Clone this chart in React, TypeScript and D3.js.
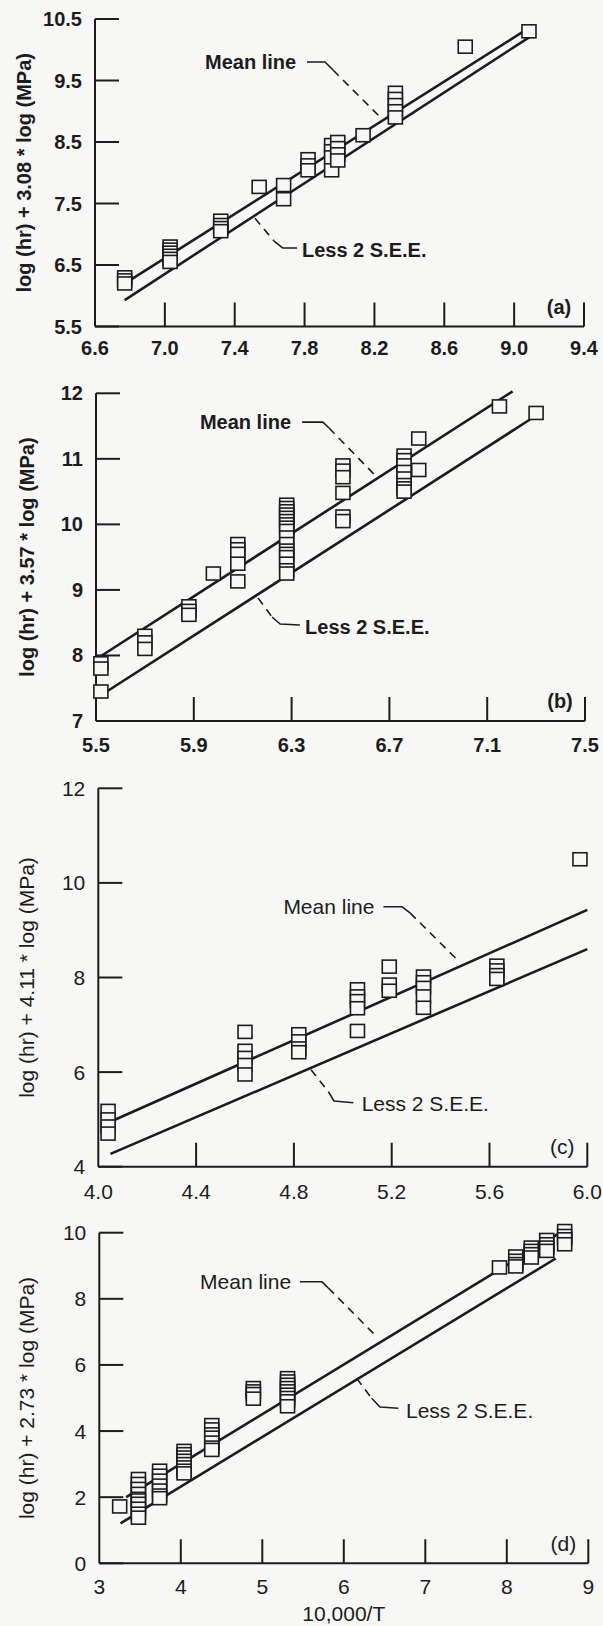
import React from 'react';
import * as d3 from 'd3';

const W = 603;
const H = 1626;
const BG = '#f7f7f6';
const INK = '#1c1c1c';

// ---------- Panel (a) ----------
const aXTicks = [6.6, 7.0, 7.4, 7.8, 8.2, 8.6, 9.0, 9.4];
const aYTicks = [5.5, 6.5, 7.5, 8.5, 9.5, 10.5];
const aColX = [6.77, 7.03, 7.32, 7.54, 7.68, 7.82, 7.955, 7.99, 8.135, 8.32, 8.72, 9.085];
const aColY = [
  [6.3, 6.25, 6.2],
  [6.8, 6.75, 6.7, 6.65, 6.6, 6.55],
  [7.22, 7.15, 7.1, 7.05],
  [7.77],
  [7.8, 7.57],
  [8.22, 8.12, 8.04],
  [8.45, 8.35, 8.25, 8.04],
  [8.5, 8.4, 8.3, 8.2],
  [8.61],
  [9.3, 9.2, 9.1, 9.0, 8.9],
  [10.05],
  [10.3],
];
const aMean = [[6.81, 6.27], [9.11, 10.4]];
const aLess = [[6.77, 5.93], [9.09, 10.21]];
const aMeanText = [7.23, 9.8];
const aMeanSolid = [[7.814, 9.8], [7.917, 9.8], [7.963, 9.67]];
const aMeanDash = [[7.963, 9.67], [8.232, 8.906]];
const aLessText = [7.785, 6.744];
const aLessDash = [[7.516, 7.26], [7.625, 6.89]];
const aLessSolid = [[7.625, 6.89], [7.676, 6.776], [7.757, 6.776]];

// ---------- Panel (b) ----------
const bXTicks = [5.5, 5.9, 6.3, 6.7, 7.1, 7.5];
const bYTicks = [7, 8, 9, 10, 11, 12];
const bColX = [5.52, 5.7, 5.88, 5.98, 6.08, 6.28, 6.51, 6.76, 6.82, 7.15, 7.3];
const bColY = [
  [7.88, 7.8, 7.45],
  [8.3, 8.2, 8.1],
  [8.75, 8.68, 8.62],
  [9.25],
  [9.7, 9.62, 9.55, 9.4, 9.13],
  [10.3, 10.25, 10.2, 10.15, 10.1, 10.05, 10.0, 9.95, 9.9, 9.8, 9.7, 9.6, 9.55, 9.5, 9.4, 9.3, 9.25],
  [10.9, 10.82, 10.72, 10.48, 10.12, 10.05],
  [11.05, 10.98, 10.9, 10.8, 10.7, 10.6, 10.55, 10.5],
  [11.31, 10.83],
  [11.8],
  [11.7],
];
const bMean = [[5.516, 7.98], [7.204, 12.03]];
const bLess = [[5.544, 7.45], [7.275, 11.6]];
const bMeanText = [5.925, 11.56];
const bMeanSolid = [[6.343, 11.56], [6.428, 11.56], [6.453, 11.47]];
const bMeanDash = [[6.453, 11.47], [6.649, 10.72]];
const bLessText = [6.355, 8.44];
const bLessDash = [[6.163, 8.877], [6.22, 8.587]];
const bLessSolid = [[6.22, 8.587], [6.253, 8.48], [6.334, 8.465]];

// ---------- Panel (c) ----------
const cXTicks = [4.0, 4.4, 4.8, 5.2, 5.6, 6.0];
const cYTicks = [4, 6, 8, 10, 12];
const cColX = [4.04, 4.6, 4.82, 5.06, 5.19, 5.33, 5.63, 5.97];
const cColY = [
  [5.18, 5.0, 4.85, 4.7],
  [6.85, 6.45, 6.3, 6.15, 5.95],
  [6.8, 6.65, 6.5, 6.42],
  [7.75, 7.6, 7.5, 7.35, 6.87],
  [8.23, 7.85, 7.72],
  [8.02, 7.9, 7.78, 7.6, 7.36],
  [8.25, 8.15, 8.05, 7.97],
  [10.5],
];
const cMean = [[4.04, 4.93], [6.0, 9.43]];
const cLess = [[4.05, 4.27], [6.0, 8.6]];
const cMeanText = [4.757, 9.497];
const cMeanSolid = [[5.166, 9.497], [5.241, 9.497], [5.275, 9.365]];
const cMeanDash = [[5.275, 9.365], [5.472, 8.355]];
const cLessText = [5.077, 5.34];
const cLessDash = [[4.87, 6.05], [4.941, 5.586]];
const cLessSolid = [[4.941, 5.586], [4.964, 5.389], [5.043, 5.353]];

// ---------- Panel (d) ----------
const dXTicks = [3, 4, 5, 6, 7, 8, 9];
const dYTicks = [0, 2, 4, 6, 8, 10];
const dColX = [3.25, 3.48, 3.74, 4.04, 4.38, 4.89, 5.31, 7.91, 8.11, 8.3, 8.49, 8.71];
const dColY = [
  [1.72],
  [2.55, 2.4, 2.25, 2.1, 1.95, 1.9, 1.8, 1.65, 1.5, 1.38],
  [2.8, 2.65, 2.5, 2.35, 2.2, 2.05, 1.97],
  [3.4, 3.3, 3.2, 3.1, 3.0, 2.9, 2.8, 2.72],
  [4.18, 4.05, 3.9, 3.8, 3.65, 3.5, 3.43],
  [5.3, 5.2, 5.12, 4.98],
  [5.6, 5.5, 5.4, 5.3, 5.2, 5.1, 5.0, 4.9, 4.75],
  [8.95],
  [9.28, 9.15, 9.05, 8.98],
  [9.55, 9.45, 9.35, 9.25],
  [9.78, 9.65, 9.55, 9.45],
  [10.05, 9.9, 9.8, 9.65],
];
const dMean = [[3.33, 2.0], [8.72, 10.1]];
const dLess = [[3.26, 1.21], [8.6, 9.22]];
const dMeanText = [4.236, 8.518];
const dMeanSolid = [[5.463, 8.518], [5.729, 8.518], [5.81, 8.327]];
const dMeanDash = [[5.81, 8.327], [6.404, 6.854]];
const dLessText = [6.763, 4.637];
const dLessDash = [[6.158, 5.596], [6.342, 4.991]];
const dLessSolid = [[6.342, 4.991], [6.444, 4.728], [6.669, 4.688]];

const yTitles = [
  'log (hr) + 3.08 * log (MPa)',
  'log (hr) + 3.57 * log (MPa)',
  'log (hr) + 4.11 * log (MPa)',
  'log (hr) + 2.73 * log (MPa)',
];
const tags = ['(a)', '(b)', '(c)', '(d)'];
const xTitle = '10,000/T';
const meanLabel = 'Mean line';
const lessLabel = 'Less 2 S.E.E.';

const FONT = "'Liberation Sans', Arial, Helvetica, sans-serif";

type Pt = number[];

interface PanelCfg {
  xDomain: [number, number];
  yDomain: [number, number];
  px: [number, number];
  py: [number, number];
  xTicks: number[];
  yTicks: number[];
  xFmt: (n: number) => string;
  yFmt: (n: number) => string;
  colX: number[];
  colY: number[][];
  mean: Pt[];
  less: Pt[];
  meanText: Pt;
  meanSolid: Pt[];
  meanDash: Pt[];
  lessText: Pt;
  lessDash: Pt[];
  lessSolid: Pt[];
  yTitle: string;
  tag: string;
  bold: boolean;
  fs: number;
  yTitleX: number;
  xLabelDy: number;
  xTitle?: string;
}

const f1 = d3.format('.1f');
const f0 = d3.format('d');

const panels: PanelCfg[] = [
  {
    xDomain: [6.6, 9.4], yDomain: [5.5, 10.5], px: [95, 584], py: [326.5, 19],
    xTicks: aXTicks, yTicks: aYTicks, xFmt: f1, yFmt: f1,
    colX: aColX, colY: aColY, mean: aMean, less: aLess,
    meanText: aMeanText, meanSolid: aMeanSolid, meanDash: aMeanDash,
    lessText: aLessText, lessDash: aLessDash, lessSolid: aLessSolid,
    yTitle: yTitles[0], tag: tags[0], bold: true, fs: 20, yTitleX: 24, xLabelDy: 21,
  },
  {
    xDomain: [5.5, 7.5], yDomain: [7, 12], px: [96, 585], py: [721, 393.3],
    xTicks: bXTicks, yTicks: bYTicks, xFmt: f1, yFmt: f0,
    colX: bColX, colY: bColY, mean: bMean, less: bLess,
    meanText: bMeanText, meanSolid: bMeanSolid, meanDash: bMeanDash,
    lessText: bLessText, lessDash: bLessDash, lessSolid: bLessSolid,
    yTitle: yTitles[1], tag: tags[1], bold: true, fs: 20, yTitleX: 26.5, xLabelDy: 24,
  },
  {
    xDomain: [4, 6], yDomain: [4, 12], px: [98.3, 587.3], py: [1166.7, 788.3],
    xTicks: cXTicks, yTicks: cYTicks, xFmt: f1, yFmt: f0,
    colX: cColX, colY: cColY, mean: cMean, less: cLess,
    meanText: cMeanText, meanSolid: cMeanSolid, meanDash: cMeanDash,
    lessText: cLessText, lessDash: cLessDash, lessSolid: cLessSolid,
    yTitle: yTitles[2], tag: tags[2], bold: false, fs: 21, yTitleX: 26.5, xLabelDy: 24.5,
  },
  {
    xDomain: [3, 9], yDomain: [0, 10], px: [99.3, 588.3], py: [1563.3, 1232.7],
    xTicks: dXTicks, yTicks: dYTicks, xFmt: f0, yFmt: f0,
    colX: dColX, colY: dColY, mean: dMean, less: dLess,
    meanText: dMeanText, meanSolid: dMeanSolid, meanDash: dMeanDash,
    lessText: dLessText, lessDash: dLessDash, lessSolid: dLessSolid,
    yTitle: yTitles[3], tag: tags[3], bold: false, fs: 21, yTitleX: 26.5, xLabelDy: 23.5,
    xTitle,
  },
];

const TICK = 24;
const SQ_W = 14;
const SQ_H = 13;

function Panel({ cfg }: { cfg: PanelCfg }) {
  const x = d3.scaleLinear().domain(cfg.xDomain).range(cfg.px);
  const y = d3.scaleLinear().domain(cfg.yDomain).range(cfg.py);
  const line = d3.line<Pt>().x((d) => x(d[0])).y((d) => y(d[1]));
  const weight = cfg.bold ? 'bold' : 'normal';
  const x0 = cfg.px[0];
  const x1 = cfg.px[1];
  const yB = cfg.py[0];
  const yT = cfg.py[1];
  const points: { cx: number; cy: number; k: string }[] = [];
  cfg.colX.forEach((xv, i) => {
    cfg.colY[i].forEach((yv, j) => {
      points.push({ cx: x(xv), cy: y(yv), k: `${i}-${j}` });
    });
  });
  const textStyle = { fontFamily: FONT, fontSize: cfg.fs, fontWeight: weight as any, fill: INK };
  return (
    <g>
      {/* axes */}
      <line x1={x0} x2={x0} y1={yT} y2={yB} stroke={INK} strokeWidth={2} />
      <line x1={x0} x2={x1} y1={yB} y2={yB} stroke={INK} strokeWidth={2} />
      {cfg.yTicks.map((t) => (
        <g key={`yt${t}`}>
          <line x1={x0} x2={x0 + TICK} y1={y(t)} y2={y(t)} stroke={INK} strokeWidth={2} />
          <text x={x0 - 13} y={y(t)} textAnchor="end" dominantBaseline="central" style={textStyle}>
            {cfg.yFmt(t)}
          </text>
        </g>
      ))}
      {cfg.xTicks.map((t, i) => (
        <g key={`xt${t}`}>
          {i > 0 && (
            <line x1={x(t)} x2={x(t)} y1={yB} y2={yB - TICK} stroke={INK} strokeWidth={2} />
          )}
          <text x={x(t)} y={yB + cfg.xLabelDy} textAnchor="middle" dominantBaseline="central" style={textStyle}>
            {cfg.xFmt(t)}
          </text>
        </g>
      ))}
      {/* y title */}
      <text
        transform={`translate(${cfg.yTitleX},${(yT + yB) / 2}) rotate(-90)`}
        textAnchor="middle"
        dominantBaseline="central"
        style={textStyle}
      >
        {cfg.yTitle}
      </text>
      {cfg.xTitle && (
        <text x={(x0 + x1) / 2} y={yB + 50} textAnchor="middle" dominantBaseline="central" style={textStyle}>
          {cfg.xTitle}
        </text>
      )}
      {/* tag */}
      <text x={x1 - 25} y={yB - 20} textAnchor="middle" dominantBaseline="central" style={textStyle}>
        {cfg.tag}
      </text>
      {/* regression lines */}
      <path d={line(cfg.mean) || ''} fill="none" stroke={INK} strokeWidth={2.6} />
      <path d={line(cfg.less) || ''} fill="none" stroke={INK} strokeWidth={2.6} />
      {/* annotations */}
      <text x={x(cfg.meanText[0])} y={y(cfg.meanText[1])} dominantBaseline="central" style={textStyle}>
        {meanLabel}
      </text>
      <path d={line(cfg.meanSolid) || ''} fill="none" stroke={INK} strokeWidth={1.6} strokeLinejoin="round" />
      <path d={line(cfg.meanDash) || ''} fill="none" stroke={INK} strokeWidth={1.6} strokeDasharray="8 6" />
      <text x={x(cfg.lessText[0])} y={y(cfg.lessText[1])} dominantBaseline="central" style={textStyle}>
        {lessLabel}
      </text>
      <path d={line(cfg.lessDash) || ''} fill="none" stroke={INK} strokeWidth={1.6} strokeDasharray="8 6" />
      <path d={line(cfg.lessSolid) || ''} fill="none" stroke={INK} strokeWidth={1.6} strokeLinejoin="round" />
      {/* data squares */}
      {points.map((p) => (
        <rect
          key={p.k}
          x={p.cx - SQ_W / 2}
          y={p.cy - SQ_H / 2}
          width={SQ_W}
          height={SQ_H}
          fill={BG}
          stroke={INK}
          strokeWidth={1.6}
        />
      ))}
    </g>
  );
}

export default function App() {
  return (
    <svg
      width={W}
      height={H}
      viewBox={`0 0 ${W} ${H}`}
      style={{ position: 'absolute', left: 0, top: 0, background: BG }}
    >
      <rect x={0} y={0} width={W} height={H} fill={BG} />
      {panels.map((p, i) => (
        <Panel key={i} cfg={p} />
      ))}
    </svg>
  );
}
